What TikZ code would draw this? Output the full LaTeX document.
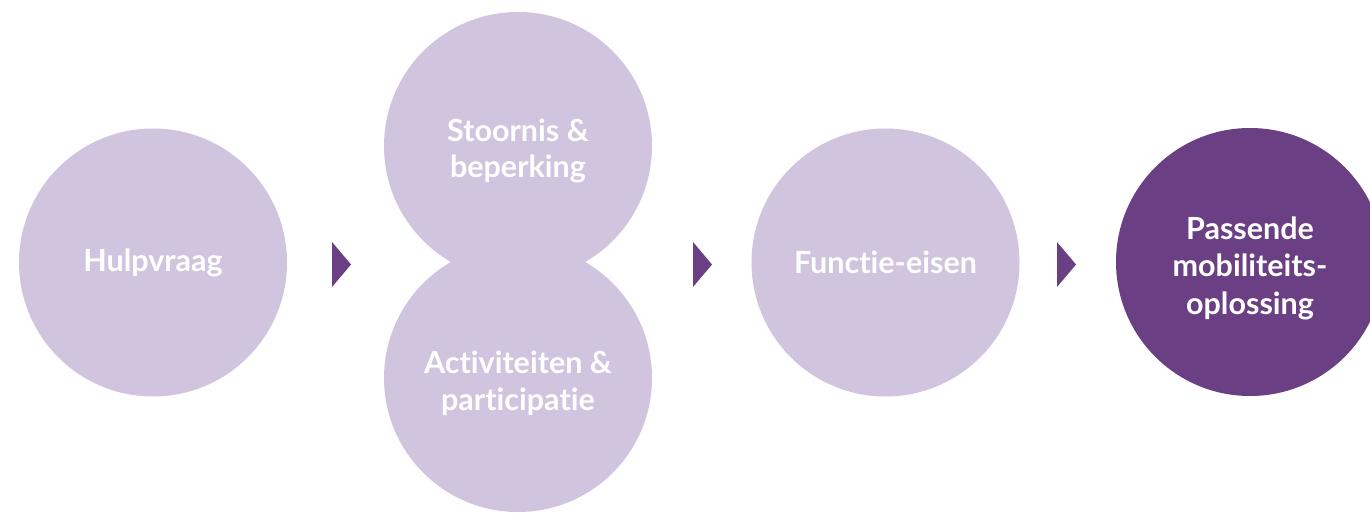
\documentclass[tikz,border=0pt]{standalone}
\usepackage{fontspec}
\setmainfont{Lato}[Ligatures={NoCommon,NoDiscretionary}]
\definecolor{lav}{HTML}{D1C4DE}
\definecolor{plum}{HTML}{6B3F83}
\tikzset{
  lbl/.style={text=white, align=center, font=\fontsize{30.5}{36.5}\selectfont\bfseries},
  bubble/.style={circle, fill=lav, inner sep=0pt, minimum size=268pt, lbl},
  darkbubble/.style={bubble, fill=plum},
  tip/.style={fill=plum}
}
\begin{document}
\begin{tikzpicture}[x=1pt,y=-1pt]
\clip (0,0) rectangle (1370,513);
\fill[white] (0,0) rectangle (1370,513);
\node[bubble] (hulp) at (153,262.5) {Hulpvraag};
\node[bubble] (act) at (518,378) {};
\node[bubble] (stoor) at (518,146) {};
\node[lbl] (stoortxt) at (518,151) {Stoornis \&\\beperking};
\node[lbl] (acttxt) at (518,383) {Activiteiten \&\\participatie};
\node[bubble] (func) at (885.5,262.5) {Functie-eisen};
\node[darkbubble] (pass) at (1250,262) {};
\node[lbl, font=\fontsize{30.5}{37.5}\selectfont\bfseries] (passtxt) at (1250,268) {Passende\\mobiliteits-\\oplossing};
\fill[tip] (332,242) -- (351,264.5) -- (332,287) -- cycle;
\fill[tip] (693,242) -- (712,264.5) -- (693,287) -- cycle;
\fill[tip] (1057,242) -- (1076,264.5) -- (1057,287) -- cycle;
\end{tikzpicture}
\end{document}
